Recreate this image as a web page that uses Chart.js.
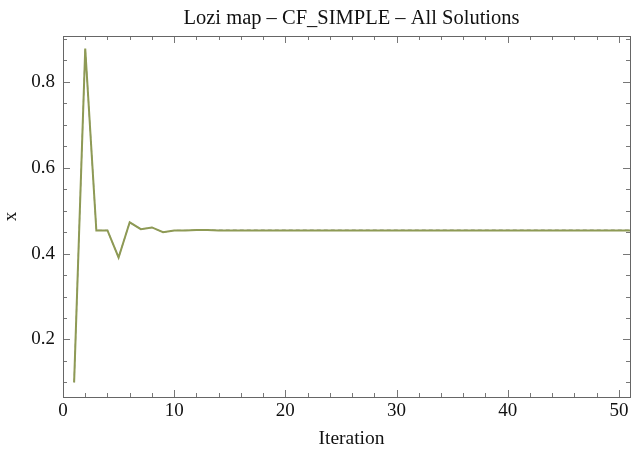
<!DOCTYPE html>
<html>
<head>
<meta charset="utf-8">
<script src="https://cdn.jsdelivr.net/npm/chart.js@4.4.1/dist/chart.umd.min.js"></script>
<style>
html,body{margin:0;padding:0;background:#fff;}
canvas{display:block;}
</style>
</head>
<body>
<canvas id="c" width="634" height="452"></canvas>
<script>
const iterations = [1,2,3,4,5,6,7,8,9,10,11,12,13,14,15,16,17,18,19,20,21,22,23,24,25,26,27,28,29,30,31,32,33,34,35,36,37,38,39,40,41,42,43,44,45,46,47,48,49,50,51];
const solutionA = [0.100,0.878,0.454,0.454,0.391,0.473,0.457,0.461,0.450,0.454,0.454,0.455,0.455,0.454,0.454,0.454,0.454,0.454,0.454,0.454,0.454,0.454,0.454,0.454,0.454,0.454,0.454,0.454,0.454,0.454,0.454,0.454,0.454,0.454,0.454,0.454,0.454,0.454,0.454,0.454,0.454,0.454,0.454,0.454,0.454,0.454,0.454,0.454,0.454,0.454,0.454];
const solutionB = [0.100,0.878,0.454,0.454,0.391,0.473,0.457,0.461,0.450,0.454,0.454,0.455,0.455,0.455,0.455,0.455,0.455,0.455,0.455,0.455,0.455,0.455,0.455,0.455,0.455,0.455,0.455,0.455,0.455,0.455,0.455,0.455,0.455,0.455,0.455,0.455,0.455,0.455,0.455,0.455,0.455,0.455,0.455,0.455,0.455,0.455,0.455,0.455,0.455,0.455,0.455];
const xTickLabels = [0,10,20,30,40,50];
const yTickLabels = [0.2,0.4,0.6,0.8];
const chartTitle = 'Lozi map \u2013 CF_SIMPLE \u2013 All Solutions';
const xAxisTitle = 'Iteration';
const yAxisTitle = 'x';
const xMinorStep = 2;
const yMinorStep = 0.05;

const serif = '"Liberation Serif","Times New Roman",serif';

const framePlugin = {
  id: 'frame',
  afterDatasetsDraw(chart) {
    const {ctx, chartArea: a, scales: {x, y}} = chart;
    ctx.save();
    ctx.strokeStyle = '#777';
    ctx.lineWidth = 1;
    ctx.beginPath();
    for (let v = x.min; v <= x.max + 1e-9; v += xMinorStep) {
      const major = xTickLabels.some(t => Math.abs(t - v) < 1e-9);
      const len = major ? 7 : 4;
      const px = Math.round(x.getPixelForValue(v)) + 0.5;
      ctx.moveTo(px, a.bottom); ctx.lineTo(px, a.bottom - len);
      ctx.moveTo(px, a.top); ctx.lineTo(px, a.top + len);
    }
    const start = Math.ceil(y.min / yMinorStep) * yMinorStep;
    for (let v = start; v <= y.max + 1e-9; v += yMinorStep) {
      const major = yTickLabels.some(t => Math.abs(t - v) < 1e-6);
      const len = major ? 7 : 4;
      const py = Math.round(y.getPixelForValue(v)) + 0.5;
      ctx.moveTo(a.left, py); ctx.lineTo(a.left + len, py);
      ctx.moveTo(a.right, py); ctx.lineTo(a.right - len, py);
    }
    ctx.stroke();
    ctx.strokeStyle = '#666';
    ctx.strokeRect(Math.round(a.left) + 0.5, Math.round(a.top) + 0.5,
                   Math.round(a.right - a.left), Math.round(a.bottom - a.top));
    // titles
    const cx = (a.left + a.right) / 2 + 5;
    ctx.fillStyle = '#111';
    ctx.textAlign = 'center';
    ctx.textBaseline = 'alphabetic';
    ctx.font = '20.5px ' + serif;
    ctx.fillText(chartTitle, cx, 24);
    ctx.font = '19.5px ' + serif;
    ctx.fillText(xAxisTitle, cx, 444);
    ctx.restore();
  }
};

new Chart(document.getElementById('c'), {
  type: 'line',
  data: {
    datasets: [
      {
        label: 'Solution A',
        data: iterations.map((it, i) => ({x: it, y: solutionA[i]})),
        borderColor: '#8e9a55',
        borderWidth: 2,
        pointRadius: 0,
        tension: 0,
        fill: false
      },
      {
        label: 'Solution B',
        data: iterations.map((it, i) => ({x: it, y: solutionB[i]})),
        borderColor: 'rgba(140,140,130,0.85)',
        borderWidth: 1.2,
        borderDash: [4, 3],
        pointRadius: 0,
        tension: 0,
        fill: false
      }
    ]
  },
  options: {
    responsive: false,
    animation: false,
    devicePixelRatio: 1,
    layout: { padding: { left: 0, right: 4, top: 36, bottom: 0 } },
    plugins: {
      legend: { display: false },
      tooltip: { enabled: false },
      title: { display: false }
    },
    scales: {
      x: {
        type: 'linear',
        min: 0,
        max: 51,
        afterBuildTicks: s => { s.ticks = xTickLabels.map(v => ({value: v})); },
        afterFit: s => { s.height = 55; },
        grid: { display: false, drawTicks: false },
        border: { display: false },
        ticks: {
          color: '#111',
          font: { family: serif, size: 19 },
          padding: 3,
          maxRotation: 0,
          autoSkip: false
        }
      },
      y: {
        type: 'linear',
        min: 0.066,
        max: 0.907,
        afterBuildTicks: s => { s.ticks = yTickLabels.map(v => ({value: v})); },
        afterFit: s => { s.width = 63; },
        grid: { display: false, drawTicks: false },
        border: { display: false },
        ticks: {
          color: '#111',
          font: { family: serif, size: 19 },
          padding: 8,
          autoSkip: false,
          callback: v => v.toFixed(1)
        },
        title: {
          display: true,
          text: yAxisTitle,
          color: '#111',
          font: { family: serif, size: 19, lineHeight: 1.2 },
          padding: { top: 0, bottom: 0 }
        }
      }
    }
  },
  plugins: [framePlugin]
});
</script>
</body>
</html>
